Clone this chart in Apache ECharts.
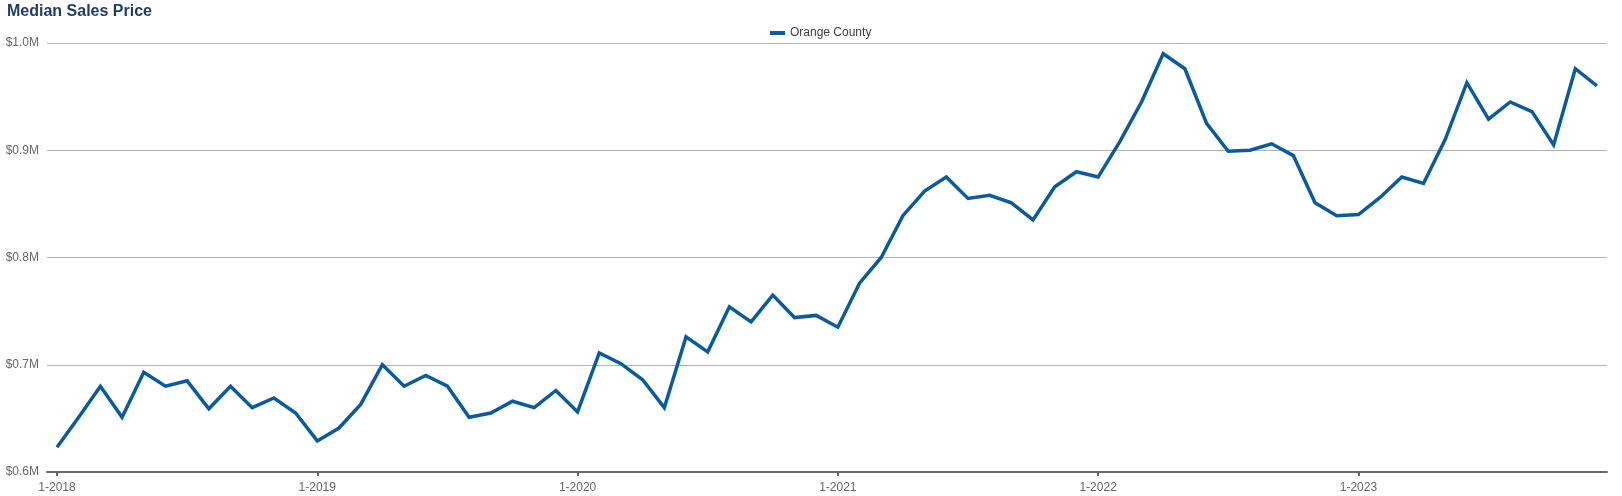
<!DOCTYPE html>
<html>
<head>
<meta charset="utf-8">
<script src="https://cdn.jsdelivr.net/npm/echarts@6/dist/echarts.min.js"></script>
<style>
html,body{margin:0;padding:0;background:#fff;}
#chart{width:1622px;height:496px;}
</style>
</head>
<body>
<div id="chart"></div>
<script>
const categories = [
  '1-2018','2-2018','3-2018','4-2018','5-2018','6-2018','7-2018','8-2018','9-2018','10-2018','11-2018','12-2018',
  '1-2019','2-2019','3-2019','4-2019','5-2019','6-2019','7-2019','8-2019','9-2019','10-2019','11-2019','12-2019',
  '1-2020','2-2020','3-2020','4-2020','5-2020','6-2020','7-2020','8-2020','9-2020','10-2020','11-2020','12-2020',
  '1-2021','2-2021','3-2021','4-2021','5-2021','6-2021','7-2021','8-2021','9-2021','10-2021','11-2021','12-2021',
  '1-2022','2-2022','3-2022','4-2022','5-2022','6-2022','7-2022','8-2022','9-2022','10-2022','11-2022','12-2022',
  '1-2023','2-2023','3-2023','4-2023','5-2023','6-2023','7-2023','8-2023','9-2023','10-2023','11-2023','12-2023'
];
const orangeCounty = [
  623000,651000,680000,651000,693000,680000,685000,659000,680000,660000,669000,655000,
  629000,641000,663000,700000,680000,690000,680000,651000,655000,666000,660000,676000,
  656000,711000,701000,686000,660000,726000,712000,754000,740000,765000,744000,746000,
  735000,776000,800000,839000,862000,875000,855000,858000,851000,835000,866000,880000,
  875000,908000,945000,990000,976000,925000,899000,900000,906000,895000,851000,839000,
  840000,856000,875000,869000,910000,963000,929000,945000,936000,905000,976000,960000
];
const xTickLabels = ['1-2018','1-2019','1-2020','1-2021','1-2022','1-2023'];
const yTicks = [600000,700000,800000,900000,1000000];

const xTickIdx = xTickLabels.map(l => categories.indexOf(l));
const seriesData = orangeCounty.map((v,i) => [i, v]);

const chart = echarts.init(document.getElementById('chart'), null, {renderer:'canvas'});
chart.setOption({
  animation: false,
  backgroundColor: '#fff',
  title: {
    text: 'Median Sales Price',
    left: 7, top: 4, padding: 0,
    textStyle: {fontFamily: 'Liberation Sans, Arial, sans-serif', fontSize: 16, fontWeight: 'bold', color: '#1f3d63'}
  },
  legend: {
    top: 22, left: 765,
    icon: 'rect', itemWidth: 15, itemHeight: 4, itemGap: 10,
    textStyle: {fontFamily: 'Liberation Sans, Arial, sans-serif', fontSize: 12, color: '#3a3f4a'},
    data: ['Orange County']
  },
  grid: {left: 47, right: 15, top: 43, bottom: 24},
  xAxis: {
    type: 'value',
    min: -0.4615, max: 71.4615,
    splitLine: {show: false},
    axisLine: {show: true, lineStyle: {color: '#666', width: 2}},
    axisTick: {show: true, customValues: xTickIdx, length: 4, lineStyle: {color: '#666', width: 2}},
    axisLabel: {
      customValues: xTickIdx,
      formatter: v => categories[Math.round(v)],
      fontFamily: 'Liberation Sans, Arial, sans-serif', fontSize: 12, color: '#666', margin: 10
    }
  },
  yAxis: {
    type: 'value',
    min: yTicks[0], max: yTicks[yTicks.length-1], interval: 100000,
    axisLine: {show: false},
    axisTick: {show: false},
    splitLine: {lineStyle: {color: '#b3b3b3', width: 1}},
    axisLabel: {
      formatter: v => '$' + (v/1e6).toFixed(1) + 'M',
      fontFamily: 'Liberation Sans, Arial, sans-serif', fontSize: 12, color: '#666', margin: 8
    }
  },
  series: [{
    name: 'Orange County',
    type: 'line',
    data: seriesData,
    symbol: 'none',
    lineStyle: {color: '#0a5b9e', width: 3.5, join: 'miter'},
    itemStyle: {color: '#0a5b9e'},
    z: 3
  }]
});
</script>
</body>
</html>
